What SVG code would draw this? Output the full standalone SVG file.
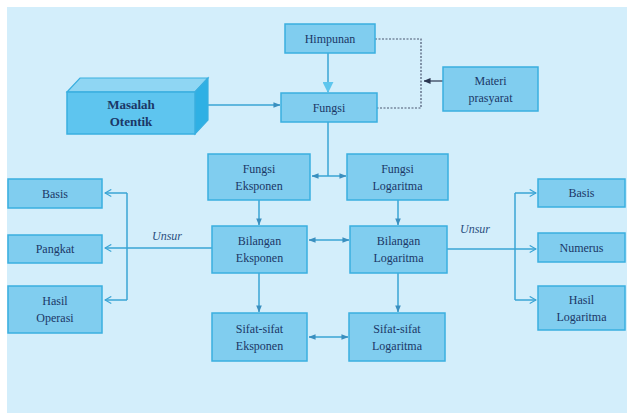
<svg xmlns="http://www.w3.org/2000/svg" width="627" height="413" viewBox="0 0 627 413">
<defs>
<style>
.box{fill:#80cdef;stroke:#3aafe0;stroke-width:1.5}
.t{font-family:'Liberation Serif','DejaVu Serif',serif;font-size:12px;fill:#1b3766;text-anchor:middle;dominant-baseline:central}
.b{font-weight:bold;font-size:13px}
.u{font-family:'Liberation Serif','DejaVu Serif',serif;font-size:12px;font-style:italic;fill:#2a4f80;text-anchor:middle}
.c{fill:none;stroke:#3aa4d4;stroke-width:1.5}
.d{fill:none;stroke:#4a5670;stroke-width:1.2;stroke-dasharray:2 1.5}
</style>
<marker id="a" viewBox="0 0 8 8" refX="7.5" refY="4" markerWidth="7" markerHeight="7" markerUnits="userSpaceOnUse" orient="auto-start-reverse">
<path d="M0,0.8 L8,4 L0,7.2 z" fill="#3a8fbf"/>
</marker>
<marker id="o" viewBox="0 0 10 10" refX="9" refY="5" markerWidth="9" markerHeight="9" markerUnits="userSpaceOnUse" orient="auto">
<path d="M2,1 L9,5 L2,9" fill="none" stroke="#3aa4d4" stroke-width="1.3"/>
</marker>
<marker id="big" viewBox="0 0 12 12" refX="11" refY="6" markerWidth="11" markerHeight="11" markerUnits="userSpaceOnUse" orient="auto">
<path d="M0,0 L12,6 L0,12 z" fill="#5ec6ee"/>
</marker>
<marker id="dk" viewBox="0 0 8 8" refX="7.5" refY="4" markerWidth="7" markerHeight="7" markerUnits="userSpaceOnUse" orient="auto">
<path d="M0,0.5 L8,4 L0,7.5 z" fill="#2a3550"/>
</marker>
</defs>
<rect x="0" y="0" width="627" height="413" fill="#ffffff"/>
<rect x="7" y="7" width="620" height="406" fill="#d3eefb"/>

<g id="connectors">
<line class="c" x1="328" y1="53" x2="328" y2="92" marker-end="url(#big)"/>
<line class="c" x1="208" y1="105" x2="280" y2="105" marker-end="url(#a)"/>
<polyline class="d" points="375,39 421,39 421,108 377,108"/>
<line x1="443" y1="81" x2="424" y2="81" stroke="#2a3550" stroke-width="1.2" marker-end="url(#dk)"/>
<line class="c" x1="328" y1="122" x2="328" y2="176"/>
<line class="c" x1="312" y1="176" x2="346" y2="176" marker-start="url(#a)" marker-end="url(#a)"/>
<line class="c" x1="259" y1="200" x2="259" y2="225" marker-end="url(#a)"/>
<line class="c" x1="398" y1="200" x2="398" y2="225" marker-end="url(#a)"/>
<line class="c" x1="259" y1="273" x2="259" y2="312" marker-end="url(#a)"/>
<line class="c" x1="398" y1="273" x2="398" y2="312" marker-end="url(#a)"/>
<line class="c" x1="309" y1="240" x2="349" y2="240" marker-start="url(#a)" marker-end="url(#a)"/>
<line class="c" x1="309" y1="337" x2="348" y2="337" marker-start="url(#a)" marker-end="url(#a)"/>
<line class="c" x1="212" y1="248" x2="105" y2="248" marker-end="url(#o)"/>
<polyline class="c" points="127,193 127,300"/>
<line class="c" x1="127" y1="193" x2="105" y2="193" marker-end="url(#o)"/>
<line class="c" x1="127" y1="300" x2="105" y2="300" marker-end="url(#o)"/>
<line class="c" x1="447" y1="249" x2="536" y2="249" marker-end="url(#o)"/>
<polyline class="c" points="515,193 515,300"/>
<line class="c" x1="515" y1="193" x2="536" y2="193" marker-end="url(#o)"/>
<line class="c" x1="515" y1="300" x2="536" y2="300" marker-end="url(#o)"/>
<text class="u" x="167" y="240">Unsur</text>
<text class="u" x="475" y="233">Unsur</text>
</g>

<g id="himpunan"><rect class="box" x="285" y="24" width="90" height="29"/><text class="t" x="330" y="38.5">Himpunan</text></g>
<g id="fungsi"><rect class="box" x="281" y="93" width="96" height="29"/><text class="t" x="329" y="107.5">Fungsi</text></g>
<g id="materi"><rect class="box" x="443" y="67" width="95" height="44"/><text class="t" x="490.5" y="80.5">Materi</text><text class="t" x="490.5" y="97.5">prasyarat</text></g>
<g id="masalah">
<polygon points="67,92 80,78 208,78 195,92" fill="#8fd6f3" stroke="#3aafe0" stroke-width="1.2"/>
<polygon points="195,92 208,78 208,120 195,134" fill="#2fb0e4" stroke="#3aafe0" stroke-width="1.2"/>
<rect x="67" y="92" width="128" height="42" fill="#5ec5ef" stroke="#3aafe0" stroke-width="1.5"/>
<text class="t b" x="131" y="104">Masalah</text><text class="t b" x="131" y="121">Otentik</text>
</g>
<g id="fungsi-eksponen"><rect class="box" x="208" y="154" width="102" height="46"/><text class="t" x="259" y="168.5">Fungsi</text><text class="t" x="259" y="185.5">Eksponen</text></g>
<g id="fungsi-logaritma"><rect class="box" x="347" y="154" width="101" height="46"/><text class="t" x="397.5" y="168.5">Fungsi</text><text class="t" x="397.5" y="185.5">Logaritma</text></g>
<g id="bilangan-eksponen"><rect class="box" x="212" y="226" width="95" height="47"/><text class="t" x="259.5" y="241">Bilangan</text><text class="t" x="259.5" y="258">Eksponen</text></g>
<g id="bilangan-logaritma"><rect class="box" x="350" y="226" width="97" height="47"/><text class="t" x="398.5" y="241">Bilangan</text><text class="t" x="398.5" y="258">Logaritma</text></g>
<g id="sifat-eksponen"><rect class="box" x="212" y="313" width="95" height="48"/><text class="t" x="259.5" y="328.5">Sifat-sifat</text><text class="t" x="259.5" y="345.5">Eksponen</text></g>
<g id="sifat-logaritma"><rect class="box" x="349" y="313" width="96" height="48"/><text class="t" x="397" y="328.5">Sifat-sifat</text><text class="t" x="397" y="345.5">Logaritma</text></g>
<g id="basis-kiri"><rect class="box" x="8" y="179" width="94" height="29"/><text class="t" x="55" y="193.5">Basis</text></g>
<g id="pangkat"><rect class="box" x="8" y="235" width="94" height="28"/><text class="t" x="55" y="249">Pangkat</text></g>
<g id="hasil-operasi"><rect class="box" x="8" y="286" width="94" height="47"/><text class="t" x="55" y="301">Hasil</text><text class="t" x="55" y="318">Operasi</text></g>
<g id="basis-kanan"><rect class="box" x="538" y="179" width="87" height="28"/><text class="t" x="581.5" y="193">Basis</text></g>
<g id="numerus"><rect class="box" x="538" y="233" width="87" height="29"/><text class="t" x="581.5" y="247.5">Numerus</text></g>
<g id="hasil-logaritma"><rect class="box" x="538" y="286" width="87" height="44"/><text class="t" x="581.5" y="299.5">Hasil</text><text class="t" x="581.5" y="316.5">Logaritma</text></g>
</svg>
